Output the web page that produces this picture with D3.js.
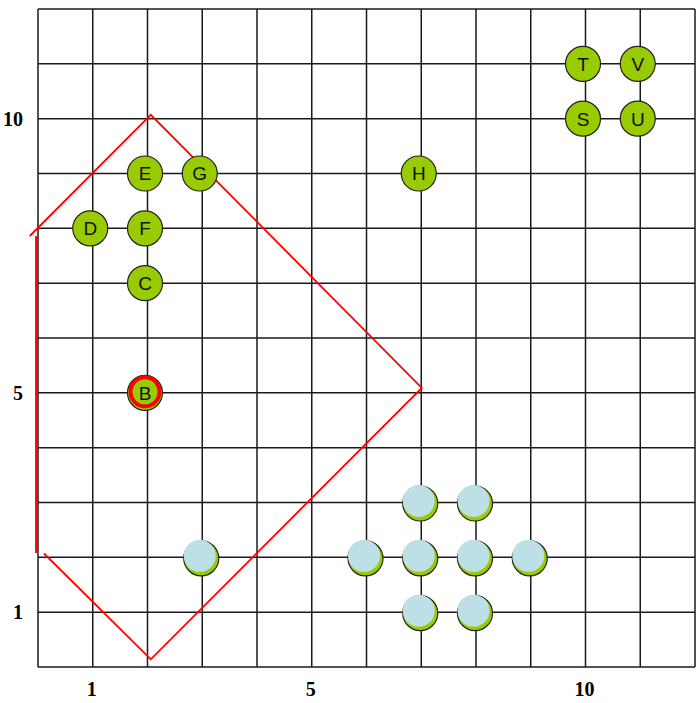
<!DOCTYPE html>
<html>
<head>
<meta charset="utf-8">
<script src="https://cdn.jsdelivr.net/npm/d3@7"></script>
<style>
  body { margin: 0; background: #fff; }
  svg { display: block; }
</style>
</head>
<body>
<svg id="chart"></svg>
<script>
const gridMax = 12
const xTicks = [1, 5, 10]
const yTicks = [1, 5, 10]

// labelled green points
const letters = ["B", "C", "D", "E", "F", "G", "H", "S", "T", "U", "V"]
const letterX = [2, 2, 1, 2, 2, 3, 7, 10, 10, 11, 11]
const letterY = [5, 7, 8, 9, 8, 9, 9, 10, 11, 10, 11]
const highlighted = ["B"]

// light blue points
const blueX = [3, 6, 7, 8, 9, 7, 8, 7, 8]
const blueY = [2, 2, 2, 2, 2, 3, 3, 1, 1]

// red outline
const hullX = [-0.15, 2.06, 7.01, 2.06, 0.11]
const hullY = [7.86, 10.07, 5.09, 0.14, 2.07]
const edgeX = [-0.03, -0.03]
const edgeY = [2.08, 7.86]

const width = 696,
    height = 703

const svg = d3.select("#chart")
    .attr("width", width)
    .attr("height", height)

const x = d3.scaleLinear().domain([0, gridMax]).range([38, 695])
const y = d3.scaleLinear().domain([0, gridMax]).range([667, 9])

const steps = d3.range(0, gridMax + 1)

// grid
svg.append("g")
    .selectAll("line")
    .data(steps)
    .enter()
    .append("line")
    .attr("x1", d => x(d))
    .attr("x2", d => x(d))
    .attr("y1", y(gridMax))
    .attr("y2", y(0))
    .attr("stroke", "#1a1a1a")
    .attr("stroke-width", 1.5)

svg.append("g")
    .selectAll("line")
    .data(steps)
    .enter()
    .append("line")
    .attr("x1", x(0))
    .attr("x2", x(gridMax))
    .attr("y1", d => y(d))
    .attr("y2", d => y(d))
    .attr("stroke", "#1a1a1a")
    .attr("stroke-width", 1.5)

// tick labels
const labelFont = "'Liberation Serif', 'Times New Roman', serif"

svg.append("g")
    .selectAll("text")
    .data(xTicks)
    .enter()
    .append("text")
    .attr("x", d => x(d) - 1)
    .attr("y", 696)
    .attr("text-anchor", "middle")
    .style("font-family", labelFont)
    .style("font-weight", "bold")
    .style("font-size", "20px")
    .text(d => d)

svg.append("g")
    .selectAll("text")
    .data(yTicks)
    .enter()
    .append("text")
    .attr("x", 23)
    .attr("y", d => y(d) + 7)
    .attr("text-anchor", "end")
    .style("font-family", labelFont)
    .style("font-weight", "bold")
    .style("font-size", "20px")
    .text(d => d)

// red outline
const line = d3.line()
    .x(d => x(d[0]))
    .y(d => y(d[1]))

svg.append("path")
    .attr("d", line(d3.zip(hullX, hullY)))
    .attr("fill", "none")
    .attr("stroke", "#ff0000")
    .attr("stroke-width", 1.8)

svg.append("path")
    .attr("d", line(d3.zip(edgeX, edgeY)))
    .attr("fill", "none")
    .attr("stroke", "#ff0000")
    .attr("stroke-width", 2.5)

const r = 17.5

// light blue points with green shadow
const blue = svg.append("g")
    .selectAll("g")
    .data(d3.zip(blueX, blueY))
    .enter()
    .append("g")
    .attr("transform", d => `translate(${x(d[0]) - 2},${y(d[1])})`)

blue.append("circle")
    .attr("cx", 1)
    .attr("cy", 1)
    .attr("r", r)
    .attr("fill", "#99cc00")
    .attr("stroke", "#222")
    .attr("stroke-width", 1.2)

blue.append("circle")
    .attr("cx", -0.5)
    .attr("cy", -1.5)
    .attr("r", r - 1.5)
    .attr("fill", "#bce0e5")

// green lettered points
const pts = svg.append("g")
    .selectAll("g")
    .data(letters)
    .enter()
    .append("g")
    .attr("transform", (d, i) => `translate(${x(letterX[i]) - 2.5},${y(letterY[i])})`)

pts.append("circle")
    .attr("r", r)
    .attr("fill", "#99cc00")
    .attr("stroke", "#222")
    .attr("stroke-width", 1.2)

pts.filter(d => highlighted.includes(d))
    .append("circle")
    .attr("r", r - 3)
    .attr("cy", -1)
    .attr("fill", "#99cc00")
    .attr("stroke", "#ff0000")
    .attr("stroke-width", 4)

pts.append("text")
    .attr("text-anchor", "middle")
    .attr("dy", "0.36em")
    .style("font-family", "'Liberation Sans', Arial, sans-serif")
    .style("font-size", "19px")
    .attr("fill", "#111")
    .text(d => d)
</script>
</body>
</html>
